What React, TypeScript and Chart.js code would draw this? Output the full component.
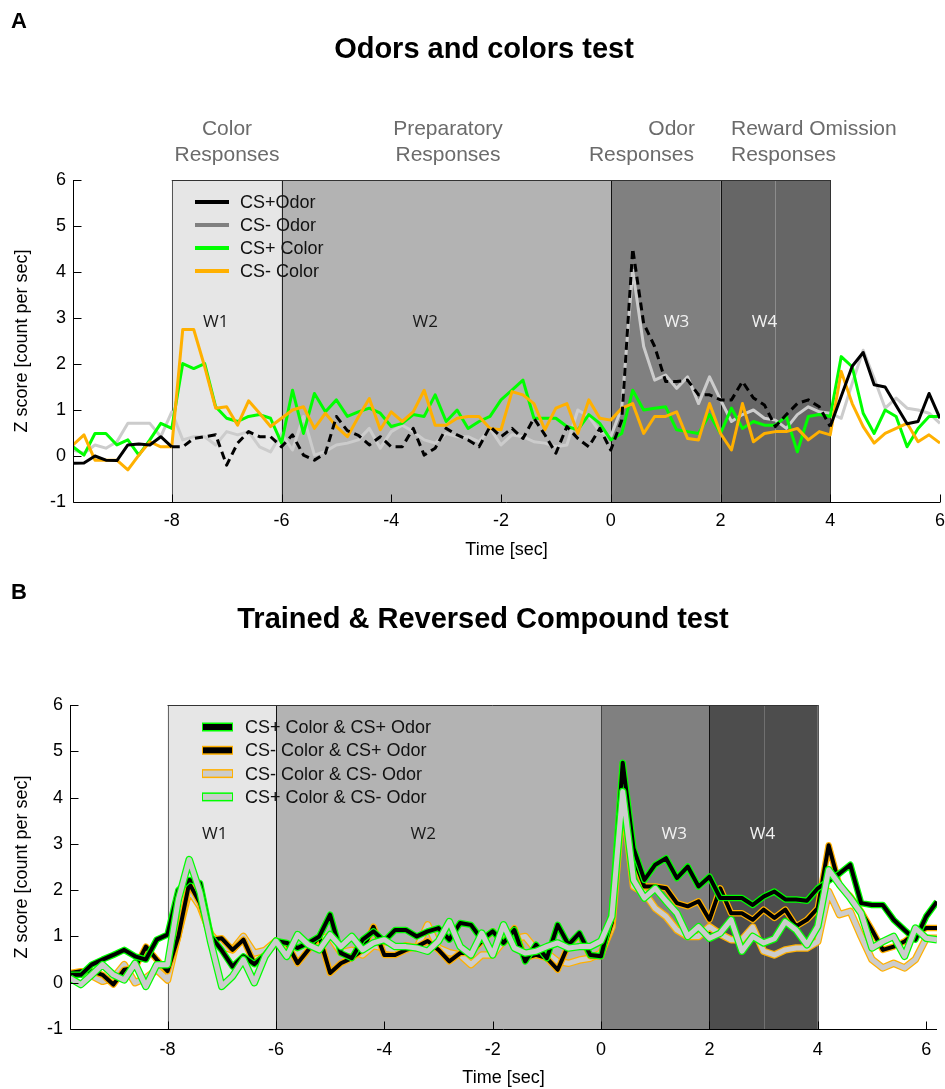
import React, { useEffect, useRef } from "react";
import { Chart, registerables } from "chart.js";
Chart.register(...registerables);

const FONT = "'Liberation Sans', Arial, Helvetica, sans-serif";
const WFONT = "'Open Sans', 'DejaVu Sans', sans-serif";

// time bins (sec)
const timeB = [
  -9.8, -9.6, -9.4, -9.2, -9, -8.8, -8.6, -8.4, -8.2, -8,
  -7.8, -7.6, -7.4, -7.2, -7, -6.8, -6.6, -6.4, -6.2, -6,
  -5.8, -5.6, -5.4, -5.2, -5, -4.8, -4.6, -4.4, -4.2, -4,
  -3.8, -3.6, -3.4, -3.2, -3, -2.8, -2.6, -2.4, -2.2, -2,
  -1.8, -1.6, -1.4, -1.2, -1, -0.8, -0.6, -0.4, -0.2, 0,
  0.2, 0.4, 0.6, 0.8, 1, 1.2, 1.4, 1.6, 1.8, 2,
  2.2, 2.4, 2.6, 2.8, 3, 3.2, 3.4, 3.6, 3.8, 4,
  4.2, 4.4, 4.6, 4.8, 5, 5.2, 5.4, 5.6, 5.8, 6,
  6.2,
];
const timeA = timeB.slice(0, 80);

// Panel A: Odors and colors test
const csPlusOdorA = [
  -0.16, -0.15, 0.0, -0.09, -0.1, 0.24, 0.26, 0.24, 0.42, 0.2,
  0.2, 0.38, 0.42, 0.46, -0.2, 0.28, 0.53, 0.42, 0.42, 0.2,
  0.46, 0.02, -0.09, 0.06, 0.86, 0.55, 0.45, 0.24, 0.42, 0.2,
  0.2, 0.6, 0.02, 0.17, 0.6, 0.46, 0.35, 0.2, 0.64, 0.42,
  0.6, 0.38, 0.82, 0.46, 0.06, 0.64, 0.38, 0.2, 0.6, 0.13,
  0.78, 4.51, 2.88, 2.38, 1.62, 1.62, 1.65, 1.33, 1.33, 1.22,
  1.22, 1.62, 1.26, 1.11, 0.64, 0.9, 1.14, 1.22, 1.07, 0.64,
  1.3, 1.95, 2.25, 1.55, 1.5, 1.1, 0.7, 0.75, 1.36, 0.82,
];
const csMinusOdorA = [
  0.13, 0.06, 0.24, 0.17, 0.31, 0.71, 0.71, 0.71, 0.42, 0.96,
  0.35, 0.42, 0.42, 0.24, 0.53, 0.46, 0.53, 0.2, 0.09, 0.49,
  0.13, 0.86, 0.02, 0.1, 0.24, 0.28, 0.35, 0.6, 0.17, 0.53,
  0.67, 0.53, 0.35, 0.28, 0.49, 0.42, 0.42, 0.31, 0.6, 0.24,
  0.46, 0.42, 0.31, 0.28, 0.2, 0.24, 1.0, 0.86, 0.53, 0.42,
  1.05, 4.04, 2.38, 1.65, 1.76, 1.47, 1.72, 1.14, 1.72, 1.22,
  0.75, 0.9, 1.0, 0.82, 0.78, 0.6, 0.9, 1.07, 0.96, 0.93,
  0.82, 1.58, 2.3, 1.69, 1.04, 1.26, 1.04, 1.0, 0.93, 0.71,
];
const csPlusColorA = [
  0.2, 0.02, 0.49, 0.49, 0.24, 0.35, 0.02, 0.35, 0.71, 0.6,
  2.01, 1.9, 2.01, 1.07, 0.82, 0.75, 0.86, 0.9, 0.82, 0.28,
  1.43, 0.49, 1.36, 0.96, 1.22, 0.86, 0.96, 1.04, 0.93, 0.64,
  0.71, 0.9, 0.86, 1.33, 0.75, 1.0, 0.6, 0.75, 0.86, 1.22,
  1.43, 1.65, 0.82, 0.82, 0.82, 0.64, 0.57, 0.9, 0.71, 0.35,
  0.49, 1.43, 1.0, 1.04, 1.07, 0.57, 0.53, 0.49, 0.9, 0.49,
  1.04, 0.6, 0.75, 0.67, 0.67, 0.86, 0.09, 0.86, 0.9, 0.86,
  2.16, 1.94, 0.93, 0.49, 1.0, 0.86, 0.2, 0.6, 0.86, 0.86,
];
const csMinusColorA = [
  0.24, 0.46, -0.09, -0.09, -0.09, -0.3, 0.02, 0.31, 0.2, 0.2,
  2.75, 2.75, 1.94, 1.04, 1.07, 0.67, 1.2, 0.93, 0.64, 0.82,
  1.0, 1.07, 0.6, 0.93, 0.64, 0.42, 0.85, 1.25, 0.57, 0.96,
  0.75, 0.96, 1.43, 0.67, 0.67, 0.82, 0.86, 0.86, 0.6, 0.57,
  1.4, 1.33, 1.14, 0.57, 1.04, 1.14, 0.49, 1.22, 0.82, 0.78,
  1.04, 1.14, 0.49, 0.86, 0.86, 0.96, 0.38, 0.35, 1.14, 0.49,
  0.13, 1.14, 0.31, 0.49, 0.53, 0.53, 0.6, 0.35, 0.53, 0.46,
  1.84, 1.14, 0.64, 0.28, 0.49, 0.6, 0.71, 0.31, 0.46, 0.28,
];

// Panel B: Trained & Reversed Compound test
const plusColorPlusOdorB = [
  0.17, 0.17, 0.39, 0.5, 0.6, 0.71, 0.57, 0.5, 0.93, 1.04,
  2.0, 2.22, 2.15, 1.0, 0.7, 0.35, 0.57, 0.4, 0.6, 0.9,
  0.86, 0.75, 0.86, 1.0, 1.47, 0.64, 0.53, 0.93, 1.11, 0.9,
  1.14, 1.14, 1.0, 1.11, 1.18, 0.93, 1.29, 1.25, 0.93, 1.11,
  0.86, 1.14, 0.46, 0.82, 0.53, 1.25, 0.82, 1.07, 0.6, 0.57,
  1.5, 4.75, 2.9, 2.22, 2.55, 2.69, 2.26, 2.51, 2.08, 2.29,
  1.83, 1.83, 1.83, 1.68, 1.86, 1.97, 1.8, 1.8, 1.77, 2.04,
  2.2, 2.36, 2.55, 1.72, 1.68, 1.68, 1.36, 1.14, 0.93, 1.43,
  1.75,
];
const minusColorPlusOdorB = [
  0.21, 0.25, 0.25, 0.17, -0.04, 0.28, 0.32, 0.78, 0.5, 0.25,
  1.0, 2.15, 1.72, 0.93, 0.96, 0.71, 0.93, 0.42, 0.6, 0.85,
  0.86, 0.42, 0.71, 1.0, 0.21, 0.42, 0.53, 0.71, 1.21, 0.6,
  0.6, 0.71, 0.78, 0.9, 0.71, 0.46, 0.64, 0.64, 0.9, 1.11,
  0.86, 1.18, 0.53, 0.6, 0.53, 0.28, 0.82, 1.04, 0.57, 0.57,
  1.3, 4.7, 2.7, 2.08, 2.08, 2.04, 1.72, 1.65, 1.76, 1.36,
  2.04, 1.5, 1.5, 1.36, 1.58, 1.4, 1.58, 1.22, 1.36, 1.61,
  2.97, 2.1, 1.87, 1.54, 1.14, 0.71, 0.78, 0.89, 1.07, 1.18,
  1.18,
];
const minusColorMinusOdorB = [
  0.17, 0.21, 0.15, 0.03, 0.1, 0.39, 0.0, 0.1, 0.28, 0.06,
  1.07, 2.0, 1.65, 1.04, 0.78, 0.71, 1.0, 0.64, 0.7, 0.9,
  0.75, 0.6, 0.8, 0.95, 1.0, 0.65, 0.7, 0.6, 0.8, 0.75,
  0.7, 0.8, 0.75, 1.25, 0.75, 0.65, 0.6, 0.39, 0.6, 0.6,
  0.9, 0.95, 1.0, 0.71, 0.64, 0.46, 0.42, 0.49, 0.53, 0.64,
  1.2, 4.0, 2.08, 1.94, 1.61, 1.43, 1.14, 1.0, 1.0, 1.21,
  1.05, 0.93, 0.93, 1.2, 0.68, 0.6, 0.71, 0.75, 0.75, 0.89,
  1.97, 1.47, 1.54, 1.0, 0.5, 0.32, 0.42, 0.32, 0.5, 0.96,
  0.96,
];
const plusColorMinusOdorB = [
  0.1, -0.04, 0.17, 0.39, 0.17, 0.06, 0.42, -0.08, 0.39, 0.39,
  1.8, 2.66, 1.95, 0.86, -0.08, 0.14, 0.5, 0.0, 0.57, 0.9,
  0.57, 1.04, 0.82, 0.71, 1.04, 0.78, 1.0, 0.71, 0.86, 0.93,
  0.78, 0.78, 0.75, 0.68, 0.9, 1.32, 0.78, 0.6, 1.07, 0.6,
  1.25, 0.75, 0.64, 0.68, 0.78, 0.86, 0.75, 0.78, 0.78, 0.9,
  1.43, 4.13, 2.22, 1.83, 2.04, 1.76, 1.5, 1.0, 1.21, 0.96,
  1.07, 1.36, 0.68, 1.0, 0.86, 0.95, 1.32, 1.14, 0.82, 1.22,
  2.44, 2.12, 1.83, 1.5, 0.75, 0.89, 1.0, 0.57, 1.18, 0.96,
  0.93,
];

const xTicks = [-8, -6, -4, -2, 0, 2, 4, 6];
const yTicks = [-1, 0, 1, 2, 3, 4, 5, 6];
const windowEdges = [-8, -6, 0, 2, 4];
const rewardMarker = 3;
const windowNames = ["W1", "W2", "W3", "W4"];
const legendA = ["CS+Odor", "CS- Odor", "CS+ Color", "CS- Color"];
const legendB = [
  "CS+ Color & CS+ Odor",
  "CS- Color & CS+ Odor",
  "CS- Color & CS- Odor",
  "CS+ Color & CS- Odor",
];

const BLACK = "#000000";
const GREEN = "#00ff00";
const ORANGE = "#ffb000";
const LIGHT = "#cccccc";
const MID = "#808080";

type TextItem = { text: string; x: number; y: number; font: string; color: string; align: CanvasTextAlign };

type Panel = {
  height: number;
  area: { left: number; right: number; top: number; bottom: number };
  xMax: number;
  xTickPad: number;
  xTitlePad: number;
  datasets: any[];
  fills: string[];
  edgeColors: string[];
  markerColor: string;
  wX: number[];
  wY: number;
  wColors: string[];
  legend: (ctx: CanvasRenderingContext2D) => void;
  texts: TextItem[];
};

const pts = (t: number[], v: number[]) => v.map((y, i) => ({ x: t[i], y }));

function buildChart(canvas: HTMLCanvasElement, p: Panel) {
  const decor = {
    id: "decor",
    beforeDatasetsDraw(chart: any) {
      const { ctx, chartArea: a, scales } = chart;
      const x = scales.x;
      const y = scales.y;
      ctx.save();
      for (let k = 0; k < 4; k++) {
        const x0 = x.getPixelForValue(windowEdges[k]);
        const x1 = x.getPixelForValue(windowEdges[k + 1]);
        ctx.fillStyle = p.fills[k];
        ctx.fillRect(x0, a.top, x1 - x0, a.bottom - a.top);
      }
      ctx.lineWidth = 1;
      const xm = Math.round(x.getPixelForValue(rewardMarker)) + 0.5;
      ctx.strokeStyle = p.markerColor;
      ctx.beginPath();
      ctx.moveTo(xm, a.top);
      ctx.lineTo(xm, a.bottom);
      ctx.stroke();
      windowEdges.forEach((e, k) => {
        const xe = Math.round(x.getPixelForValue(e)) + 0.5;
        ctx.strokeStyle = p.edgeColors[k];
        ctx.beginPath();
        ctx.moveTo(xe, a.top);
        ctx.lineTo(xe, a.bottom);
        ctx.stroke();
      });
      const yt = Math.round(a.top) + 0.5;
      ctx.strokeStyle = "#333";
      ctx.beginPath();
      ctx.moveTo(x.getPixelForValue(windowEdges[0]), yt);
      ctx.lineTo(x.getPixelForValue(windowEdges[4]), yt);
      ctx.stroke();
      ctx.font = `17px ${WFONT}`;
      ctx.textAlign = "center";
      ctx.textBaseline = "middle";
      windowNames.forEach((w, k) => {
        ctx.fillStyle = p.wColors[k];
        ctx.fillText(w, x.getPixelForValue(p.wX[k]), y.getPixelForValue(p.wY));
      });
      ctx.restore();
    },
    afterDatasetsDraw(chart: any) {
      const { ctx, chartArea: a, scales } = chart;
      const x = scales.x;
      const y = scales.y;
      ctx.save();
      ctx.strokeStyle = "#000";
      ctx.lineWidth = 1;
      const l = Math.round(a.left) + 0.5;
      const b = Math.round(a.bottom) + 0.5;
      ctx.beginPath();
      ctx.moveTo(l, a.top);
      ctx.lineTo(l, b);
      ctx.lineTo(a.right, b);
      ctx.stroke();
      yTicks.forEach((v) => {
        const yy = Math.round(y.getPixelForValue(v)) + 0.5;
        ctx.beginPath();
        ctx.moveTo(l, yy);
        ctx.lineTo(l + 8, yy);
        ctx.stroke();
      });
      xTicks.forEach((v) => {
        const xx = Math.round(x.getPixelForValue(v)) + 0.5;
        ctx.beginPath();
        ctx.moveTo(xx, b);
        ctx.lineTo(xx, b - 8);
        ctx.stroke();
      });
      p.legend(ctx);
      ctx.restore();
    },
    afterDraw(chart: any) {
      const { ctx } = chart;
      ctx.save();
      ctx.textBaseline = "middle";
      p.texts.forEach((t) => {
        ctx.font = t.font;
        ctx.fillStyle = t.color;
        ctx.textAlign = t.align;
        ctx.fillText(t.text, t.x, t.y);
      });
      ctx.restore();
    },
  };

  const tickFont = { family: FONT, size: 18 };
  return new Chart(canvas, {
    type: "line",
    data: { datasets: p.datasets },
    options: {
      responsive: false,
      animation: false,
      events: [],
      layout: { padding: { top: p.area.top, right: 945 - p.area.right, left: 0, bottom: 0 } },
      plugins: { legend: { display: false }, tooltip: { enabled: false }, title: { display: false } },
      elements: {
        point: { radius: 0 },
        line: { tension: 0, borderJoinStyle: "round" },
      },
      scales: {
        x: {
          type: "linear",
          min: -9.8,
          max: p.xMax,
          grid: { display: false, drawTicks: false },
          border: { display: false },
          afterBuildTicks: (s: any) => {
            s.ticks = xTicks.map((v) => ({ value: v }));
          },
          afterFit: (s: any) => {
            s.height = p.height - p.area.bottom;
            s.paddingRight = 0;
            s.paddingLeft = 0;
          },
          ticks: {
            font: tickFont,
            color: "#000",
            padding: p.xTickPad,
            maxRotation: 0,
            autoSkip: false,
            callback: (v: any) => String(v),
          },
          title: {
            display: true,
            text: "Time [sec]",
            font: tickFont,
            color: "#000",
            padding: { top: 0, bottom: p.xTitlePad },
          },
        },
        y: {
          type: "linear",
          min: -1,
          max: 6,
          grid: { display: false, drawTicks: false },
          border: { display: false },
          afterBuildTicks: (s: any) => {
            s.ticks = yTicks.map((v) => ({ value: v }));
          },
          afterFit: (s: any) => {
            s.width = p.area.left;
            s.paddingTop = 0;
            s.paddingBottom = 0;
          },
          ticks: { font: tickFont, color: "#000", padding: 7, callback: (v: any) => String(v) },
          title: {
            display: true,
            text: "Z score [count per sec]",
            font: tickFont,
            color: "#000",
            padding: { top: 11, bottom: 0 },
          },
        },
      },
    } as any,
    plugins: [decor],
  });
}

const annColor = "#6b6b6b";
const annFont = `21px ${FONT}`;
const titleFont = `bold 29px ${FONT}`;

const panelA: Panel = {
  height: 575,
  area: { left: 73, right: 940, top: 180, bottom: 502 },
  xMax: 6,
  xTickPad: 8,
  xTitlePad: 14,
  datasets: [
    {
      label: legendA[0],
      data: pts(timeA, csPlusOdorA),
      borderColor: BLACK,
      borderWidth: 3,
      segment: {
        borderDash: (c: any) =>
          timeA[c.p0DataIndex] >= windowEdges[0] && timeA[c.p1DataIndex] <= windowEdges[4] ? [8, 5] : undefined,
      },
    },
    { label: legendA[3], data: pts(timeA, csMinusColorA), borderColor: ORANGE, borderWidth: 3 },
    { label: legendA[2], data: pts(timeA, csPlusColorA), borderColor: GREEN, borderWidth: 3 },
    { label: legendA[1], data: pts(timeA, csMinusOdorA), borderColor: LIGHT, borderWidth: 3 },
  ],
  fills: ["#e6e6e6", "#b3b3b3", "#808080", "#666666"],
  edgeColors: ["#555", "#222", "#111", "#111", "#333"],
  markerColor: "#8c8c8c",
  wX: [-7.2, -3.38, 1.2, 2.8],
  wY: 2.9,
  wColors: ["#1a1a1a", "#1a1a1a", "#f2f2f2", "#f2f2f2"],
  legend: (ctx) => {
    const cols = [BLACK, MID, GREEN, ORANGE];
    legendA.forEach((lab, k) => {
      const yy = 202 + 23 * k;
      ctx.strokeStyle = cols[k];
      ctx.lineWidth = 4;
      ctx.beginPath();
      ctx.moveTo(195, yy);
      ctx.lineTo(229, yy);
      ctx.stroke();
      ctx.fillStyle = "#111";
      ctx.font = `18px ${FONT}`;
      ctx.textAlign = "left";
      ctx.textBaseline = "middle";
      ctx.fillText(lab, 240, yy + 1);
    });
  },
  texts: [
    { text: "A", x: 11, y: 22, font: `bold 22px ${FONT}`, color: "#000", align: "left" },
    { text: "Odors and colors test", x: 484, y: 50, font: titleFont, color: "#000", align: "center" },
    { text: "Color", x: 227, y: 129, font: annFont, color: annColor, align: "center" },
    { text: "Responses", x: 227, y: 155, font: annFont, color: annColor, align: "center" },
    { text: "Preparatory", x: 448, y: 129, font: annFont, color: annColor, align: "center" },
    { text: "Responses", x: 448, y: 155, font: annFont, color: annColor, align: "center" },
    { text: "Odor", x: 695, y: 129, font: annFont, color: annColor, align: "right" },
    { text: "Responses", x: 694, y: 155, font: annFont, color: annColor, align: "right" },
    { text: "Reward Omission", x: 731, y: 129, font: annFont, color: annColor, align: "left" },
    { text: "Responses", x: 731, y: 155, font: annFont, color: annColor, align: "left" },
  ],
};

function outlined(label: string, v: number[], core: string, edge: string, coreW: number, edgeW: number) {
  return [
    { label, data: pts(timeB, v), borderColor: core, borderWidth: coreW },
    { label: label + " outline", data: pts(timeB, v), borderColor: edge, borderWidth: edgeW },
  ];
}

const legendBStyle = [
  { fill: BLACK, edge: GREEN },
  { fill: BLACK, edge: ORANGE },
  { fill: LIGHT, edge: ORANGE },
  { fill: LIGHT, edge: GREEN },
];

const panelB: Panel = {
  height: 514,
  area: { left: 70, right: 937, top: 130, bottom: 454 },
  xMax: 6.2,
  xTickPad: 10,
  xTitlePad: 0,
  datasets: [
    ...outlined(legendB[3], plusColorMinusOdorB, LIGHT, GREEN, 5, 7.5),
    ...outlined(legendB[0], plusColorPlusOdorB, BLACK, GREEN, 4, 6.5),
    ...outlined(legendB[1], minusColorPlusOdorB, BLACK, ORANGE, 4, 6.5),
    ...outlined(legendB[2], minusColorMinusOdorB, LIGHT, ORANGE, 5, 7.5),
  ],
  fills: ["#e6e6e6", "#b3b3b3", "#808080", "#4d4d4d"],
  edgeColors: ["#666", "#111", "#444", "#111", "#555"],
  markerColor: "#707070",
  wX: [-7.13, -3.28, 1.35, 2.98],
  wY: 3.2,
  wColors: ["#1a1a1a", "#1a1a1a", "#f2f2f2", "#f2f2f2"],
  legend: (ctx) => {
    legendB.forEach((lab, k) => {
      const yy = 152 + 23.3 * k;
      const st = legendBStyle[k];
      ctx.fillStyle = st.edge;
      ctx.fillRect(202, yy - 4.5, 31, 9);
      ctx.fillStyle = st.fill;
      ctx.fillRect(203, yy - 3, 29, 6);
      ctx.fillStyle = "#111";
      ctx.font = `18px ${FONT}`;
      ctx.textAlign = "left";
      ctx.textBaseline = "middle";
      ctx.fillText(lab, 245, yy + 1);
    });
  },
  texts: [
    { text: "B", x: 11, y: 18, font: `bold 22px ${FONT}`, color: "#000", align: "left" },
    { text: "Trained & Reversed Compound test", x: 483, y: 45, font: titleFont, color: "#000", align: "center" },
  ],
};

export default function App() {
  const refA = useRef<HTMLCanvasElement>(null);
  const refB = useRef<HTMLCanvasElement>(null);
  useEffect(() => {
    const a = buildChart(refA.current as HTMLCanvasElement, panelA);
    const b = buildChart(refB.current as HTMLCanvasElement, panelB);
    return () => {
      a.destroy();
      b.destroy();
    };
  }, []);
  return (
    <div style={{ position: "absolute", left: 0, top: 0, width: 945, height: 1089, background: "#fff" }}>
      <canvas
        ref={refA}
        width={945}
        height={575}
        style={{ position: "absolute", left: 0, top: 0, width: 945, height: 575 }}
      />
      <canvas
        ref={refB}
        width={945}
        height={514}
        style={{ position: "absolute", left: 0, top: 575, width: 945, height: 514 }}
      />
    </div>
  );
}
